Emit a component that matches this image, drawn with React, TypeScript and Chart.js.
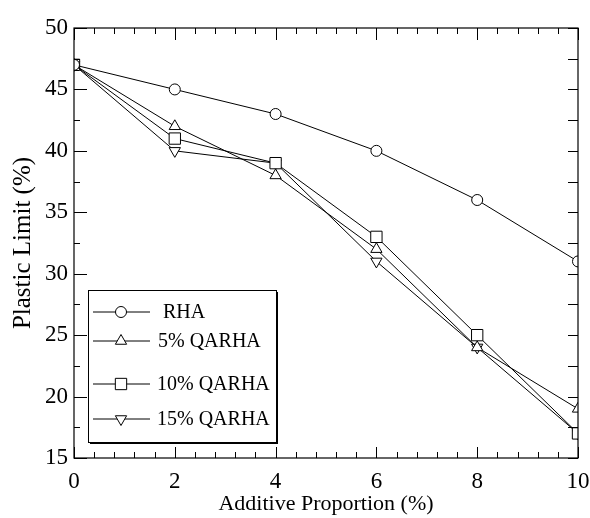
import React, { useEffect, useRef } from 'react';
import { Chart, registerables } from 'chart.js';
import { drawPoint } from 'chart.js/helpers';
Chart.register(...registerables);

const proportions = [0, 2, 4, 6, 8, 10];
const rha = [47, 45, 43, 40, 36, 31];
const qarha5 = [47, 42, 38, 32, 24, 19];
const qarha10 = [47, 41, 39, 33, 25, 17];
const qarha15 = [47, 40, 39, 31, 24, 17];
const seriesLabels = ['RHA', '5% QARHA', '10% QARHA', '15% QARHA'];
const xTicks = [0, 2, 4, 6, 8, 10];
const yTicks = [15, 20, 25, 30, 35, 40, 45, 50];

const FONT = '"Liberation Serif", "Times New Roman", serif';

const styles = [
  { pointStyle: 'circle', rotation: 0, radius: 5.5 },
  { pointStyle: 'triangle', rotation: 0, radius: 6.5 },
  { pointStyle: 'rect', rotation: 0, radius: 8 },
  { pointStyle: 'triangle', rotation: 180, radius: 6.5 },
];

const zeroPad = (s: any) => {
  s.paddingLeft = 0;
  s.paddingRight = 0;
  s.paddingTop = 0;
  s.paddingBottom = 0;
};

const framePlugin = {
  id: 'frameTicks',
  afterDraw(chart: any) {
    const ctx = chart.ctx;
    const { left, right, top, bottom } = chart.chartArea;
    const xs = chart.scales.x;
    const ys = chart.scales.y;
    ctx.save();
    ctx.strokeStyle = '#000';
    ctx.lineWidth = 1.2;
    ctx.strokeRect(left, top, right - left, bottom - top);
    ctx.lineWidth = 1;
    ctx.beginPath();
    for (let i = 0; i <= 25; i++) {
      const v = i * 0.4;
      const px = Math.round(xs.getPixelForValue(v)) + 0.5;
      const major = i % 5 === 0;
      const lb = major ? 11 : 6;
      const lt = major ? 12 : 6;
      ctx.moveTo(px, bottom);
      ctx.lineTo(px, bottom - lb);
      ctx.moveTo(px, top);
      ctx.lineTo(px, top + lt);
    }
    for (let i = 0; i <= 14; i++) {
      const v = 15 + i * 2.5;
      const py = Math.round(ys.getPixelForValue(v)) + 0.5;
      const major = i % 2 === 0;
      const ll = major ? 13 : 6;
      ctx.moveTo(left, py);
      ctx.lineTo(left + ll, py);
      ctx.moveTo(right, py);
      ctx.lineTo(right - 10, py);
    }
    ctx.stroke();

    // legend
    const bx = 88, by = 290, bw = 188, bh = 152;
    ctx.fillStyle = '#000';
    ctx.fillRect(bx + 2, by + 2, bw, bh);
    ctx.fillStyle = '#fff';
    ctx.fillRect(bx, by, bw, bh);
    ctx.strokeStyle = '#000';
    ctx.lineWidth = 1;
    ctx.strokeRect(bx + 0.5, by + 0.5, bw, bh);
    const rowsY = [312, 341, 384, 419];
    const textX = [163, 158, 157, 157];
    ctx.font = '20px ' + FONT;
    ctx.textBaseline = 'middle';
    ctx.textAlign = 'left';
    chart.data.datasets.forEach((ds: any, i: number) => {
      const y = rowsY[i];
      ctx.strokeStyle = '#000';
      ctx.lineWidth = 1;
      ctx.beginPath();
      ctx.moveTo(93, y);
      ctx.lineTo(150, y);
      ctx.stroke();
      ctx.fillStyle = '#fff';
      ctx.strokeStyle = '#000';
      drawPoint(ctx, { pointStyle: styles[i].pointStyle, rotation: styles[i].rotation, radius: styles[i].radius, borderWidth: 1 }, 121, y);
      ctx.fillStyle = '#000';
      ctx.fillText(ds.label, textX[i], y + 1);
    });
    ctx.restore();
  },
};

export default function App() {
  const ref = useRef<HTMLCanvasElement | null>(null);
  useEffect(() => {
    if (!ref.current) return;
    const series = [rha, qarha5, qarha10, qarha15];
    const chart = new Chart(ref.current, {
      type: 'line',
      data: {
        datasets: series.map((s, i) => ({
          label: seriesLabels[i],
          data: proportions.map((x, j) => ({ x, y: s[j] })),
          borderColor: '#000',
          borderWidth: 1,
          backgroundColor: '#fff',
          pointBackgroundColor: '#fff',
          pointBorderColor: '#000',
          pointBorderWidth: 1,
          pointStyle: styles[i].pointStyle as any,
          pointRotation: styles[i].rotation,
          pointRadius: styles[i].radius,
          tension: 0,
          fill: false,
        })),
      },
      options: {
        animation: false,
        responsive: false,
        maintainAspectRatio: false,
        layout: { padding: { left: 0, right: 12, top: 28, bottom: 0 } },
        plugins: { legend: { display: false }, tooltip: { enabled: false } },
        scales: {
          x: {
            type: 'linear',
            min: 0,
            max: 10,
            grid: { display: false, drawTicks: false },
            border: { display: false },
            afterBuildTicks: (s: any) => { s.ticks = xTicks.map((v) => ({ value: v })); },
            afterFit: (s: any) => { s.height = 60; zeroPad(s); },
            ticks: { color: '#000', font: { family: FONT, size: 23 }, padding: 10, maxRotation: 0 },
            title: { display: true, text: 'Additive Proportion (%)', color: '#000', font: { family: FONT, size: 22 }, padding: { top: 0, bottom: 1 } },
          },
          y: {
            type: 'linear',
            min: 15,
            max: 50,
            grid: { display: false, drawTicks: false },
            border: { display: false },
            afterBuildTicks: (s: any) => { s.ticks = yTicks.map((v) => ({ value: v })); },
            afterFit: (s: any) => { s.width = 74; zeroPad(s); },
            ticks: { color: '#000', font: { family: FONT, size: 23 }, padding: 6 },
            title: { display: true, text: 'Plastic Limit (%)', color: '#000', font: { family: FONT, size: 25 }, padding: { top: 8, bottom: 0 } },
          },
        },
      },
      plugins: [framePlugin],
    });
    return () => chart.destroy();
  }, []);
  return (
    <div style={{ position: 'fixed', left: 0, top: 0, width: 590, height: 518, background: '#fff' }}>
      <canvas ref={ref} width={590} height={518} style={{ width: 590, height: 518, display: 'block' }} />
    </div>
  );
}
